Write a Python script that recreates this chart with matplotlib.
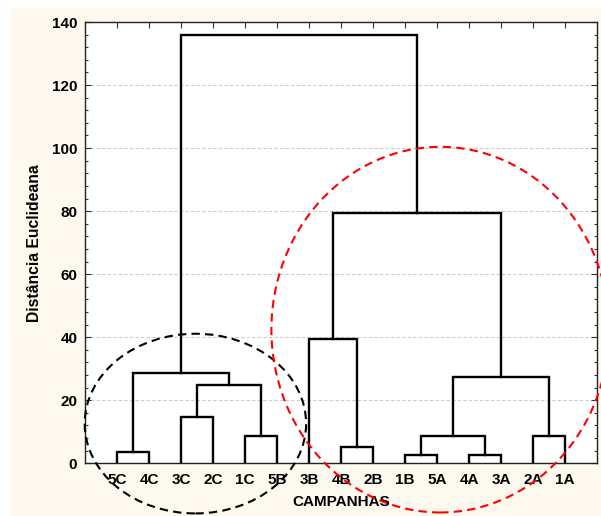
import matplotlib.pyplot as plt
from matplotlib.patches import Ellipse, Rectangle

# leaves, in the order they appear on the x axis
leaf_labels = ['5C', '4C', '3C', '2C', '1C', '5B', '3B', '4B', '2B',
               '1B', '5A', '4A', '3A', '2A', '1A']

# merges: (left node, right node, distance); new nodes are numbered from 15 on
merge_left = [0, 2, 4, 16, 15, 7, 6, 9, 11, 22, 13, 24, 21, 19]
merge_right = [1, 3, 5, 17, 18, 8, 20, 10, 12, 23, 14, 25, 26, 27]
merge_height = [3.7, 14.6, 8.8, 24.9, 28.8, 5.1, 39.4, 2.7, 2.7, 8.7, 8.7,
                27.4, 79.5, 136.0]

y_ticks = [0, 20, 40, 60, 80, 100, 120, 140]

plt.rcParams['font.family'] = ['Liberation Sans', 'DejaVu Sans']
plt.rcParams['font.weight'] = 'bold'

fig = plt.figure(figsize=(6.01, 5.16), dpi=100)
fig.patch.set_facecolor('#fdf9ee')
# white border strips at the top and left of the picture
fig.patches.append(Rectangle((0, 508 / 516), 1, 1, transform=fig.transFigure,
                             facecolor='white', edgecolor='none', zorder=0))
fig.patches.append(Rectangle((0, 0), 11 / 601, 1, transform=fig.transFigure,
                             facecolor='white', edgecolor='none', zorder=0))

ax = fig.add_axes([85 / 601, 52.7 / 516, 512 / 601, 441.3 / 516])
ax.set_facecolor('white')

# node positions: leaves sit at 1..n, a merge sits midway over its children
pos_x = [i + 1 for i in range(len(leaf_labels))]
pos_y = [0.0] * len(leaf_labels)
for a, b, h in zip(merge_left, merge_right, merge_height):
    xa, ya = pos_x[a], pos_y[a]
    xb, yb = pos_x[b], pos_y[b]
    ax.plot([xa, xa, xb, xb], [ya, h, h, yb], color='black', lw=1.7,
            solid_joinstyle='miter', zorder=3)
    pos_x.append((xa + xb) / 2)
    pos_y.append(h)

ax.set_xlim(0, 16)
ax.set_ylim(0, 140)
ax.set_xticks(range(1, len(leaf_labels) + 1))
ax.set_xticklabels(leaf_labels)
ax.set_yticks(y_ticks)
ax.set_yticks(range(0, 141, 4), minor=True)
ax.tick_params(axis='both', which='both', direction='in', top=True, right=True,
               labelsize=11, width=0.8, color='#333333')
ax.tick_params(axis='both', which='major', length=4)
ax.tick_params(axis='both', which='minor', length=2.5)
ax.tick_params(axis='x', pad=7)
ax.tick_params(axis='y', pad=5.5)
ax.yaxis.grid(True, color='#cccccc', linestyle=(0, (3, 2)), lw=0.8)
ax.set_axisbelow(True)
for s in ax.spines.values():
    s.set_linewidth(1.0)
    s.set_color('#222222')

ax.set_xlabel('CAMPANHAS', fontsize=11, fontweight='bold', labelpad=6)
ax.set_ylabel('Distância Euclideana', fontsize=11.3, fontweight='bold', labelpad=7)

# highlighted groups
ax.add_patch(Ellipse((3.45, 12.6), 6.92, 57.0, fill=False, edgecolor='black',
                     lw=1.5, linestyle=(0, (4, 2.5)), clip_on=False, zorder=4))
ax.add_patch(Ellipse((11.1, 42.4), 10.55, 116.0, fill=False, edgecolor='#ff0000',
                     lw=1.5, linestyle=(0, (4, 2.5)), clip_on=False, zorder=4))

fig.savefig('out.png', dpi=100, facecolor=fig.get_facecolor())
